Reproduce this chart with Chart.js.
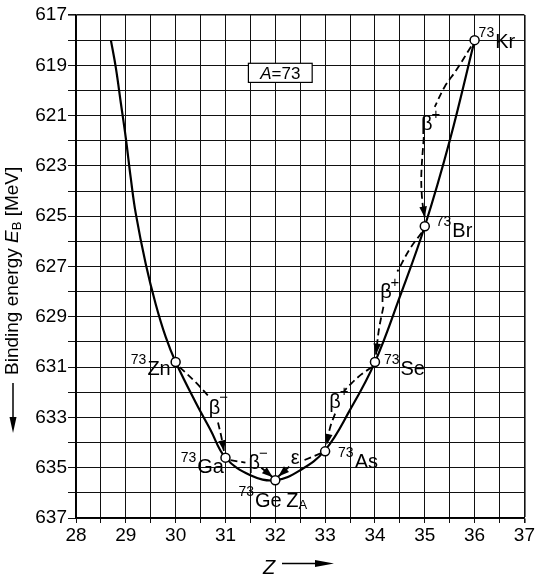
<!DOCTYPE html>
<html>
<head>
<meta charset="utf-8">
<script src="https://cdn.jsdelivr.net/npm/chart.js@4"></script>
<style>
  html, body { margin: 0; padding: 0; background: #fff; }
  #wrap { width: 536px; height: 576px; position: relative; }
</style>
</head>
<body>
<div id="wrap"><canvas id="chart"></canvas></div>
<script>
// nuclides of the A = 73 isobar
const nuclideNames = ['Zn', 'Ga', 'Ge', 'As', 'Se', 'Br', 'Kr'];
const nuclideZ = [30, 31, 32, 33, 34, 35, 36];
const nuclideE = [630.8, 634.6, 635.5, 634.35, 630.8, 625.4, 618.0];

// mass parabola
const curveZ = [28.7, 28.8, 28.9, 29.0, 29.1, 29.2, 29.4, 29.6, 29.8, 30.0, 30.4, 30.7, 31.0, 31.5, 32.0, 32.5, 33.0, 33.5, 34.0, 34.5, 35.0, 35.5, 36.0];
const curveE = [618.0, 619.1, 620.5, 621.9, 623.5, 624.9, 626.9, 628.5, 629.8, 630.8, 632.4, 633.5, 634.6, 635.3, 635.5, 635.1, 634.3, 632.7, 630.8, 628.2, 625.4, 622.0, 618.0];

// decay paths, null = gap for the label
const znGaZ = [30.08, 30.4, 30.68, null, 30.85, 30.92, 30.97];
const znGaE = [631.0, 631.6, 632.2, null, 633.2, 633.8, 634.35];
const gaGeZ = [31.1, 31.4, null, 31.72, 31.95];
const gaGeE = [634.7, 634.8, null, 635.0, 635.38];
const asGeZ = [32.92, 32.58, null, 32.28, 32.06];
const asGeE = [634.42, 634.7, null, 634.96, 635.35];
const seAsZ = [33.94, 33.72, 33.5, 33.38, null, 33.2, 33.1, 33.03];
const seAsE = [631.0, 631.3, 631.7, 631.95, null, 632.85, 633.4, 634.1];
const brSeZ = [34.94, 34.7, 34.45, null, 34.17, 34.08, 34.02];
const brSeE = [625.65, 626.3, 627.2, null, 628.6, 629.5, 630.5];
const krBrZ = [35.93, 35.63, 35.4, 35.2, null, 34.98, 34.93, 34.95, 35.0];
const krBrE = [618.25, 619.2, 619.85, 620.65, null, 621.85, 623.4, 624.4, 625.05];

const zTickLabels = [28, 29, 30, 31, 32, 33, 34, 35, 36, 37];
const energyTickLabels = [617, 619, 621, 623, 625, 627, 629, 631, 633, 635, 637];

const FONT = '"Liberation Sans", Arial, sans-serif';

function pts(zs, es) {
    return zs.map((z, i) => ({ x: z === null ? NaN : z, y: es[i] }));
}

const decays = [
    { z: znGaZ, e: znGaE, sign: '−', lz: 30.78, le: 632.63, greek: 'β' },
    { z: gaGeZ, e: gaGeE, sign: '−', lz: 31.58, le: 634.83, greek: 'β' },
    { z: asGeZ, e: asGeE, sign: '', lz: 32.40, le: 634.62, greek: 'ε' },
    { z: seAsZ, e: seAsE, sign: '+', lz: 33.2, le: 632.39, greek: 'β' },
    { z: brSeZ, e: brSeE, sign: '+', lz: 34.22, le: 628.05, greek: 'β' },
    { z: krBrZ, e: krBrE, sign: '+', lz: 35.04, le: 621.35, greek: 'β' }
];

// text anchors (left end, baseline of the symbol) in data units
const nuclideLabelZ = [29.1, 30.1, 31.26, 33.26, 34.18, 35.22, 36.08];
const nuclideLabelE = [631.31, 635.21, 636.56, 635.01, 631.31, 625.83, 618.31];

const overlay = {
    id: 'overlay',
    afterDatasetsDraw(chart) {
        const ctx = chart.ctx;
        const sx = chart.scales.x, sy = chart.scales.y;
        const P = (z, e) => [sx.getPixelForValue(z), sy.getPixelForValue(e)];
        ctx.save();
        ctx.fillStyle = '#000';
        ctx.strokeStyle = '#000';

        // arrow heads + decay labels
        decays.forEach(d => {
            const n = d.z.length;
            const [x1, y1] = P(d.z[n - 2], d.e[n - 2]);
            const [x2, y2] = P(d.z[n - 1], d.e[n - 1]);
            const a = Math.atan2(y2 - y1, x2 - x1);
            const L = 11, W = 3.8;
            ctx.beginPath();
            ctx.moveTo(x2, y2);
            ctx.lineTo(x2 - L * Math.cos(a) + W * Math.sin(a), y2 - L * Math.sin(a) - W * Math.cos(a));
            ctx.lineTo(x2 - L * Math.cos(a) - W * Math.sin(a), y2 - L * Math.sin(a) + W * Math.cos(a));
            ctx.closePath();
            ctx.fill();

            const [lx, ly] = P(d.lz, d.le);
            ctx.font = '20px ' + FONT;
            ctx.textAlign = 'center';
            ctx.textBaseline = 'middle';
            ctx.fillText(d.greek, lx, ly);
            if (d.sign) {
                ctx.font = '15px ' + FONT;
                ctx.fillText(d.sign, lx + 9, ly - 10);
            }
        });

        // nuclide labels
        ctx.textAlign = 'left';
        ctx.textBaseline = 'alphabetic';
        nuclideNames.forEach((name, i) => {
            const [x, y] = P(nuclideLabelZ[i], nuclideLabelE[i]);
            ctx.font = '14px ' + FONT;
            ctx.fillText('73', x, y - 11);
            const w = ctx.measureText('73').width;
            ctx.font = '20px ' + FONT;
            ctx.fillText(name, x + w + 1, y);
        });

        // Z_A
        {
            const [x, y] = P(32.22, 636.56);
            ctx.font = '20px ' + FONT;
            ctx.fillText('Z', x, y);
            const w = ctx.measureText('Z').width;
            ctx.font = '13px ' + FONT;
            ctx.fillText('A', x + w, y + 2);
        }

        // A = 73 box
        {
            const [bx1, by1] = P(31.46, 618.92);
            const [bx2, by2] = P(32.74, 619.68);
            ctx.fillStyle = '#fff';
            ctx.fillRect(bx1, by1, bx2 - bx1, by2 - by1);
            ctx.lineWidth = 1.2;
            ctx.strokeRect(bx1, by1, bx2 - bx1, by2 - by1);
            ctx.fillStyle = '#000';
            ctx.textBaseline = 'middle';
            ctx.font = 'italic 17px ' + FONT;
            const wA = ctx.measureText('A').width;
            ctx.font = '17px ' + FONT;
            const wR = ctx.measureText('=73').width;
            const x = (bx1 + bx2) / 2 - (wA + wR) / 2;
            const y = (by1 + by2) / 2 + 1;
            ctx.font = 'italic 17px ' + FONT;
            ctx.fillText('A', x, y);
            ctx.font = '17px ' + FONT;
            ctx.fillText('=73', x + wA, y);
        }
        ctx.restore();
    },
    afterDraw(chart) {
        const ctx = chart.ctx;
        ctx.save();
        ctx.fillStyle = '#000';
        ctx.strokeStyle = '#000';

        // y title, rotated, with arrow pointing down
        ctx.translate(13, 375);
        ctx.rotate(-Math.PI / 2);
        ctx.textBaseline = 'middle';
        ctx.textAlign = 'left';
        let x = 0;
        ctx.font = '19px ' + FONT;
        ctx.fillText('Binding energy ', x, 0);
        x += ctx.measureText('Binding energy ').width;
        ctx.font = 'italic 19px ' + FONT;
        ctx.fillText('E', x, 0);
        x += ctx.measureText('E').width;
        ctx.font = '13px ' + FONT;
        ctx.fillText('B', x, 4);
        x += ctx.measureText('B').width;
        ctx.font = '19px ' + FONT;
        ctx.fillText(' [MeV]', x, 0);
        ctx.setTransform(1, 0, 0, 1, 0, 0);

        ctx.lineWidth = 1.5;
        ctx.beginPath();
        ctx.moveTo(13, 383);
        ctx.lineTo(13, 420);
        ctx.stroke();
        ctx.beginPath();
        ctx.moveTo(13, 433);
        ctx.lineTo(9.5, 417);
        ctx.lineTo(16.5, 417);
        ctx.closePath();
        ctx.fill();

        // x title
        ctx.font = 'italic 20px ' + FONT;
        ctx.textAlign = 'left';
        ctx.textBaseline = 'alphabetic';
        ctx.fillText('Z', 263, 574);
        ctx.beginPath();
        ctx.moveTo(282, 563.5);
        ctx.lineTo(318, 563.5);
        ctx.stroke();
        ctx.beginPath();
        ctx.moveTo(334, 563.5);
        ctx.lineTo(315, 560);
        ctx.lineTo(315, 567);
        ctx.closePath();
        ctx.fill();
        ctx.restore();
    }
};

const nodes = {
    label: 'nuclides',
    data: pts(nuclideZ, nuclideE),
    showLine: false,
    pointRadius: 4.5,
    pointBorderWidth: 1.5,
    pointBackgroundColor: '#fff',
    pointBorderColor: '#000'
};

const curve = {
    label: 'parabola',
    data: pts(curveZ, curveE),
    borderColor: '#000',
    borderWidth: 2.2,
    pointRadius: 0,
    tension: 0.4
};

const decaySets = decays.map(d => ({
    label: 'decay',
    data: pts(d.z, d.e),
    borderColor: '#000',
    borderWidth: 1.8,
    borderDash: [7, 4],
    pointRadius: 0,
    tension: 0.35,
    spanGaps: false
}));

new Chart(document.getElementById('chart'), {
    type: 'line',
    data: { datasets: [nodes, curve, ...decaySets] },
    options: {
        responsive: true,
        maintainAspectRatio: false,
        animation: false,
        layout: { padding: { left: 0, right: 10, top: 15, bottom: 0 } },
        plugins: { legend: { display: false }, tooltip: { enabled: false } },
        scales: {
            x: {
                type: 'linear',
                min: 28,
                max: 37,
                afterFit: s => { s.height = 58; },
                ticks: {
                    stepSize: 0.5,
                    autoSkip: false,
                    maxRotation: 0,
                    padding: 1,
                    color: '#000',
                    font: { family: FONT, size: 19 },
                    callback: v => zTickLabels.includes(v) ? String(v) : ''
                },
                grid: {
                    color: '#111',
                    lineWidth: c => (c.tick && c.tick.value === 37) ? 1.6 : 1,
                    tickLength: 5,
                    tickColor: '#111'
                },
                border: { color: '#000', width: 1.6 }
            },
            y: {
                type: 'linear',
                reverse: true,
                min: 617,
                max: 637,
                afterFit: s => { s.width = 76; },
                ticks: {
                    stepSize: 1,
                    autoSkip: false,
                    padding: 1,
                    color: '#000',
                    font: { family: FONT, size: 19 },
                    callback: v => energyTickLabels.includes(v) ? String(v) : ''
                },
                grid: {
                    color: '#111',
                    lineWidth: c => (c.tick && c.tick.value === 617) ? 1.6 : 1,
                    tickLength: 8,
                    tickColor: '#111'
                },
                border: { color: '#000', width: 1.6 }
            }
        }
    },
    plugins: [overlay]
});
</script>
</body>
</html>
